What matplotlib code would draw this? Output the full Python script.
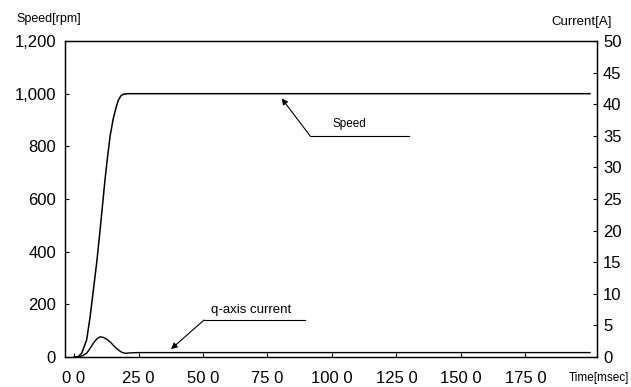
import matplotlib.pyplot as plt

plt.rcParams['font.family'] = ['Liberation Sans', 'DejaVu Sans']

# speed response (rpm) vs time (msec)
time_speed = [0, 1.5, 3, 4.9, 6.2, 7.5, 8.9, 10.1, 12.0, 13.0, 14.0, 15.2, 16.3, 17.2, 18.2, 19.1, 21, 25, 200]
speed = [0, 0, 15, 65, 150, 254, 368, 482, 672, 760, 840, 905, 948, 976, 992, 998, 1000, 1000, 1000]

# q-axis current (A) vs time (msec)
time_cur = [0, 2, 3.5, 4.9, 6.2, 7.5, 8.8, 10.1, 11.4, 12.7, 14.0, 15.6, 17.2, 18.5, 19.8, 21.5, 25, 200]
current = [0, 0.05, 0.25, 0.6, 1.35, 2.2, 2.85, 3.2, 3.1, 2.8, 2.4, 1.7, 1.1, 0.75, 0.58, 0.65, 0.7, 0.7]

x_ticks = [0, 25, 50, 75, 100, 125, 150, 175]
x_labels = ['0 0', '25 0', '50 0', '75 0', '100 0', '125 0', '150 0', '175 0']
speed_ticks = [0, 200, 400, 600, 800, 1000, 1200]
speed_labels = ['0', '200', '400', '600', '800', '1,000', '1,200']
cur_ticks = [0, 5, 10, 15, 20, 25, 30, 35, 40, 45, 50]

fig = plt.figure(figsize=(6.31, 3.87), dpi=100)
ax = fig.add_axes([0.103, 0.0775, 0.843, 0.8165])
ax2 = ax.twinx()

ax.plot(time_speed, speed, color='black', lw=1.1)
ax2.plot(time_cur, current, color='black', lw=1.0)

ax.set_xlim(-3.5, 202.7)
ax.set_ylim(0, 1200)
ax2.set_ylim(0, 50)

ax.set_xticks(x_ticks)
ax.set_xticklabels(x_labels)
ax.set_yticks(speed_ticks)
ax.set_yticklabels(speed_labels)
ax2.set_yticks(cur_ticks)

ax.tick_params(axis='x', direction='in', length=3, width=0.8, pad=10, labelsize=12)
ax.tick_params(axis='y', direction='in', length=3, width=0.8, pad=6.5, labelsize=12)
ax2.tick_params(axis='y', direction='in', length=3, width=0.8, pad=4.3, labelsize=12)
for a in (ax, ax2):
    for s in a.spines.values():
        s.set_linewidth(0.9)

# annotations
ax.annotate('', xy=(80.5, 982), xytext=(91.5, 840),
            arrowprops=dict(arrowstyle='-|>', lw=0.8, color='black',
                            mutation_scale=9, shrinkA=0, shrinkB=0))
ax.plot([91.5, 129.8], [840, 840], color='black', lw=0.8)
ax.text(106.6, 885, 'Speed', fontsize=8.5, ha='center', va='center')

ax.annotate('', xy=(37.6, 30), xytext=(50.4, 140.5),
            arrowprops=dict(arrowstyle='-|>', lw=0.8, color='black',
                            mutation_scale=9, shrinkA=0, shrinkB=0))
ax.plot([50.4, 89.5], [140.5, 140.5], color='black', lw=0.8)
ax.text(68.6, 178, 'q-axis current', fontsize=9.5, ha='center', va='center')

fig.text(49 / 631, 1 - 19 / 387, 'Speed[rpm]', fontsize=9, ha='center', va='center')
fig.text(582 / 631, 1 - 22 / 387, 'Current[A]', fontsize=9.5, ha='center', va='center')
fig.text(629 / 631, 1 - 378 / 387, 'Time[msec]', fontsize=8.5, ha='right', va='center')

fig.savefig('out.png', dpi=100)
